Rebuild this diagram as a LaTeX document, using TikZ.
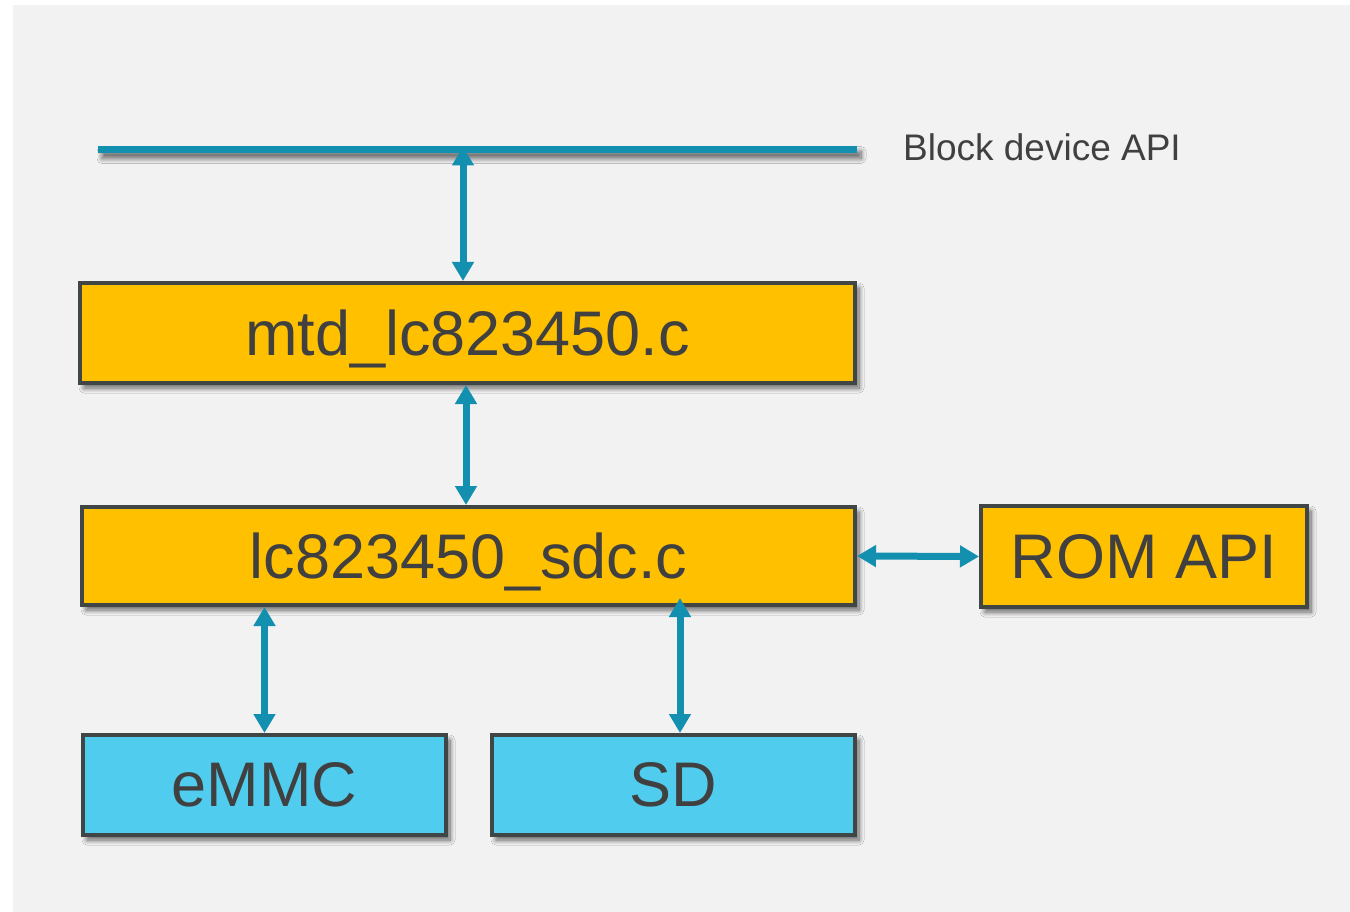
\documentclass[tikz,border=0pt]{standalone}
\usepackage{fontspec}
\setmainfont{Liberation Sans}
\usetikzlibrary{arrows.meta,shadows.blur}
\definecolor{bggray}{HTML}{F2F2F2}
\definecolor{boxline}{HTML}{404546}
\definecolor{txtgray}{HTML}{404040}
\definecolor{amber}{HTML}{FFC000}
\definecolor{sky}{HTML}{50CDEE}
\definecolor{teal}{HTML}{1390B0}
\begin{document}
\begin{tikzpicture}[x=1pt,y=-1pt,
		soft/.style={blur shadow={shadow xshift=4pt,shadow yshift=-5pt,
			shadow blur radius=5pt,shadow blur steps=10,shadow opacity=60}},
		layer/.style={draw=boxline,line width=4pt,minimum height=100pt,
			inner sep=0pt,text depth=0pt,text=txtgray,
			font=\fontsize{63}{70}\selectfont,soft},
		code/.style={layer,fill=amber},
		media/.style={layer,fill=sky,minimum width=363pt},
		link/.style={teal,line width=7pt,
			{Triangle[width=21pt,length=19pt]}-{Triangle[width=21pt,length=19pt]}} ]
	\useasboundingbox (0,0) rectangle (1350,912);
	\fill [bggray] (13,5) rectangle (1350,912);
	% block device bus
	\fill [teal,soft] (98,146.5) rectangle (857,153.5);
	\node [text=txtgray,anchor=west,inner sep=0pt,font=\fontsize{37}{44}\selectfont] (api) at (903,147) {Block device API};
	% layers
	\node [code,minimum width=775pt] (mtd) at (467.5,333) {mtd\_lc823450.c};
	\node [code,minimum width=773pt,minimum height=98pt] (sdc) at (468.5,556) {lc823450\_sdc.c};
	\node [code,minimum width=326pt,minimum height=101pt] (rom) at (1144,556.5) {ROM API};
	\node [media] (emmc) at (264.5,785) {eMMC};
	\node [media] (sd) at (673.5,785) {SD};
	% connections
	\coordinate (tap) at (463,146.5);
	\draw [link] (tap) -- (mtd.north -| tap);
	\draw [link] (mtd.south -| 466,0) -- (sdc.north -| 466,0);
	\draw [link] (sdc.east) -- (rom.west);
	\draw [link] (sdc.south -| emmc.north) -- (emmc.north);
	\draw [link] (680,598) -- (sd.north -| 680,0);
\end{tikzpicture}
\end{document}
